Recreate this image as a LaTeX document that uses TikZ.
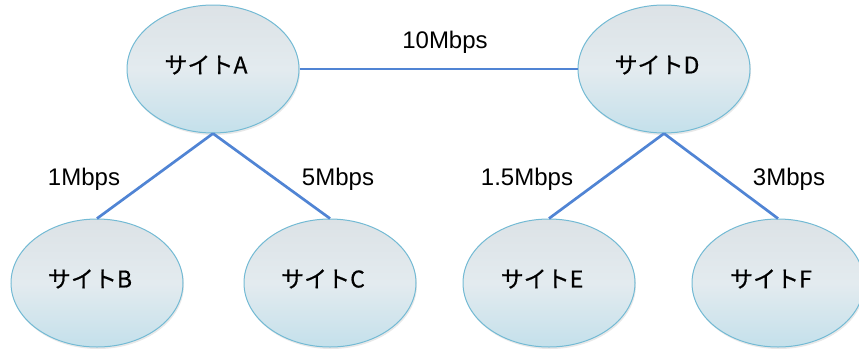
\documentclass[tikz,border=0pt]{standalone}
\usepackage{fontspec}
\setmainfont{Liberation Sans}
\newfontfamily\jpfont[FakeBold=0.6]{Noto Sans CJK JP}
\usetikzlibrary{shapes.geometric,shadows}

\definecolor{siteedge}{RGB}{115,186,212}
\definecolor{sitetop}{RGB}{220,226,230}
\definecolor{sitemid}{RGB}{227,235,239}
\definecolor{sitebot}{RGB}{196,224,235}
\definecolor{linkblue}{RGB}{80,132,212}

\begin{document}
\begin{tikzpicture}[x=1pt,y=-1pt,
  site/.style={ellipse, draw=siteedge, line width=1pt,
    minimum width=172pt, minimum height=128pt, inner sep=0pt,
    top color=sitetop, bottom color=sitebot, middle color=sitemid,
    drop shadow={shadow xshift=1pt,shadow yshift=-2pt,opacity=0.18}},
  sitename/.style={font=\jpfont\fontsize{23}{23}\selectfont, inner sep=0pt,
    xshift=-7pt, yshift=4pt},
  link/.style={draw=linkblue, line width=2.7pt},
  rate/.style={font=\fontsize{24}{24}\selectfont, inner sep=0pt, anchor=base}
]
\useasboundingbox (0,0) rectangle (859,349);

% sites
\node[site, label={[sitename]center:サイトA}] (A) at (213,69) {};
\node[site, label={[sitename]center:サイトD}] (D) at (664,69) {};
\node[site, label={[sitename]center:サイトB}] (B) at (97,283) {};
\node[site, label={[sitename]center:サイトC}] (C) at (330,283) {};
\node[site, label={[sitename]center:サイトE}] (E) at (549,283) {};
\node[site, label={[sitename]center:サイトF}] (F) at (778,283) {};

% links
\draw[link] (A.east) -- (D.west);
\draw[link] (A.south) -- (B.north);
\draw[link] (A.south) -- (C.north);
\draw[link] (D.south) -- (E.north);
\draw[link] (D.south) -- (F.north);

% bandwidths
\node[rate] (rAD) at (445,48) {10Mbps};
\node[rate] (rAB) at (84,185) {1Mbps};
\node[rate] (rAC) at (338,185) {5Mbps};
\node[rate] (rDE) at (527,185) {1.5Mbps};
\node[rate] (rDF) at (789,185) {3Mbps};
\end{tikzpicture}
\end{document}
